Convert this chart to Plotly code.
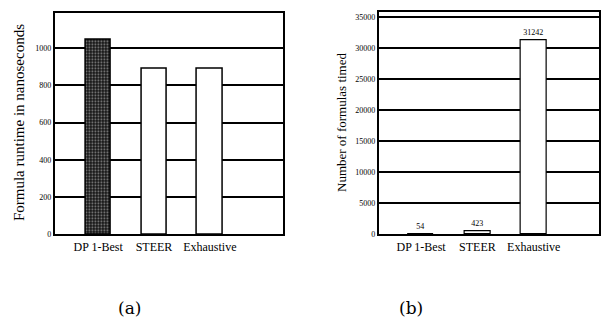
import plotly.graph_objects as go

# Data
methods = ["DP 1-Best", "STEER", "Exhaustive"]
runtime_ns = [1045, 892, 888]
formulas_timed = [54, 423, 31242]
runtime_ticks = [0, 200, 400, 600, 800, 1000]
count_ticks = [0, 5000, 10000, 15000, 20000, 25000, 30000, 35000]

W, H = 601, 333
SERIF = "'Liberation Serif', 'Times New Roman', serif"
xpos = list(range(len(methods)))

fig = go.Figure()

# (a) runtime per formula
fig.add_trace(go.Bar(
    x=xpos, y=runtime_ns, width=0.45,
    marker=dict(
        color=["#151515", "white", "white"],
        line=dict(color="black", width=1.5),
        pattern=dict(shape=[".", "", ""], bgcolor="#151515", fgcolor="#8a8a8a",
                     size=3, solidity=0.3),
    ),
    xaxis="x", yaxis="y", showlegend=False, hoverinfo="skip",
))

# (b) number of formulas timed
fig.add_trace(go.Bar(
    x=xpos, y=formulas_timed, width=0.46,
    marker=dict(color="white", line=dict(color="black", width=1.2)),
    text=[str(v) for v in formulas_timed], textposition="outside",
    textfont=dict(family=SERIF, size=8, color="black"), cliponaxis=False,
    xaxis="x2", yaxis="y2", showlegend=False, hoverinfo="skip",
))

def px_x(p):
    return p / W

def px_y(p):
    return (H - p) / H

axis_common = dict(showline=True, linecolor="black", linewidth=2, mirror=True,
                   zeroline=False, ticks="")

def label(text, x, y, size, angle=0, family=SERIF):
    return dict(text=text, x=px_x(x), y=px_y(y), xref="paper", yref="paper",
                xanchor="center", yanchor="middle", textangle=angle,
                showarrow=False, font=dict(family=family, size=size, color="black"))

fig.update_layout(
    width=W, height=H,
    margin=dict(l=0, r=0, t=0, b=0),
    paper_bgcolor="white", plot_bgcolor="white",
    bargap=0,
    xaxis=dict(domain=[px_x(55), px_x(284)], range=[-0.777, 3.312],
               tickvals=xpos, ticktext=methods, showgrid=False,
               tickfont=dict(family=SERIF, size=12, color="black"), **axis_common),
    yaxis=dict(domain=[px_y(238), px_y(13)], range=[0, 1190],
               tickvals=runtime_ticks, ticktext=[str(v) for v in runtime_ticks],
               showgrid=True, gridcolor="black", gridwidth=2,
               tickfont=dict(family=SERIF, size=8, color="black"), **axis_common),
    xaxis2=dict(domain=[px_x(380), 1.0], range=[-0.752, 3.159], anchor="y2",
                tickvals=xpos, ticktext=methods, showgrid=False,
                tickfont=dict(family=SERIF, size=12, color="black"), **axis_common),
    yaxis2=dict(domain=[px_y(238), px_y(12.5)], range=[0, 35800], anchor="x2",
                tickvals=count_ticks, ticktext=[str(v) for v in count_ticks],
                showgrid=True, gridcolor="black", gridwidth=2,
                tickfont=dict(family=SERIF, size=8, color="black"), **axis_common),
    annotations=[
        label("Formula runtime in nanoseconds", 19, 124, 15, angle=-90),
        label("Number of formulas timed", 342, 124, 13, angle=-90),
        label("(a)", 130, 313, 17, family="'DejaVu Serif', serif"),
        label("(b)", 412, 313, 17, family="'DejaVu Serif', serif"),
    ],
)

fig.write_html("out.html")
